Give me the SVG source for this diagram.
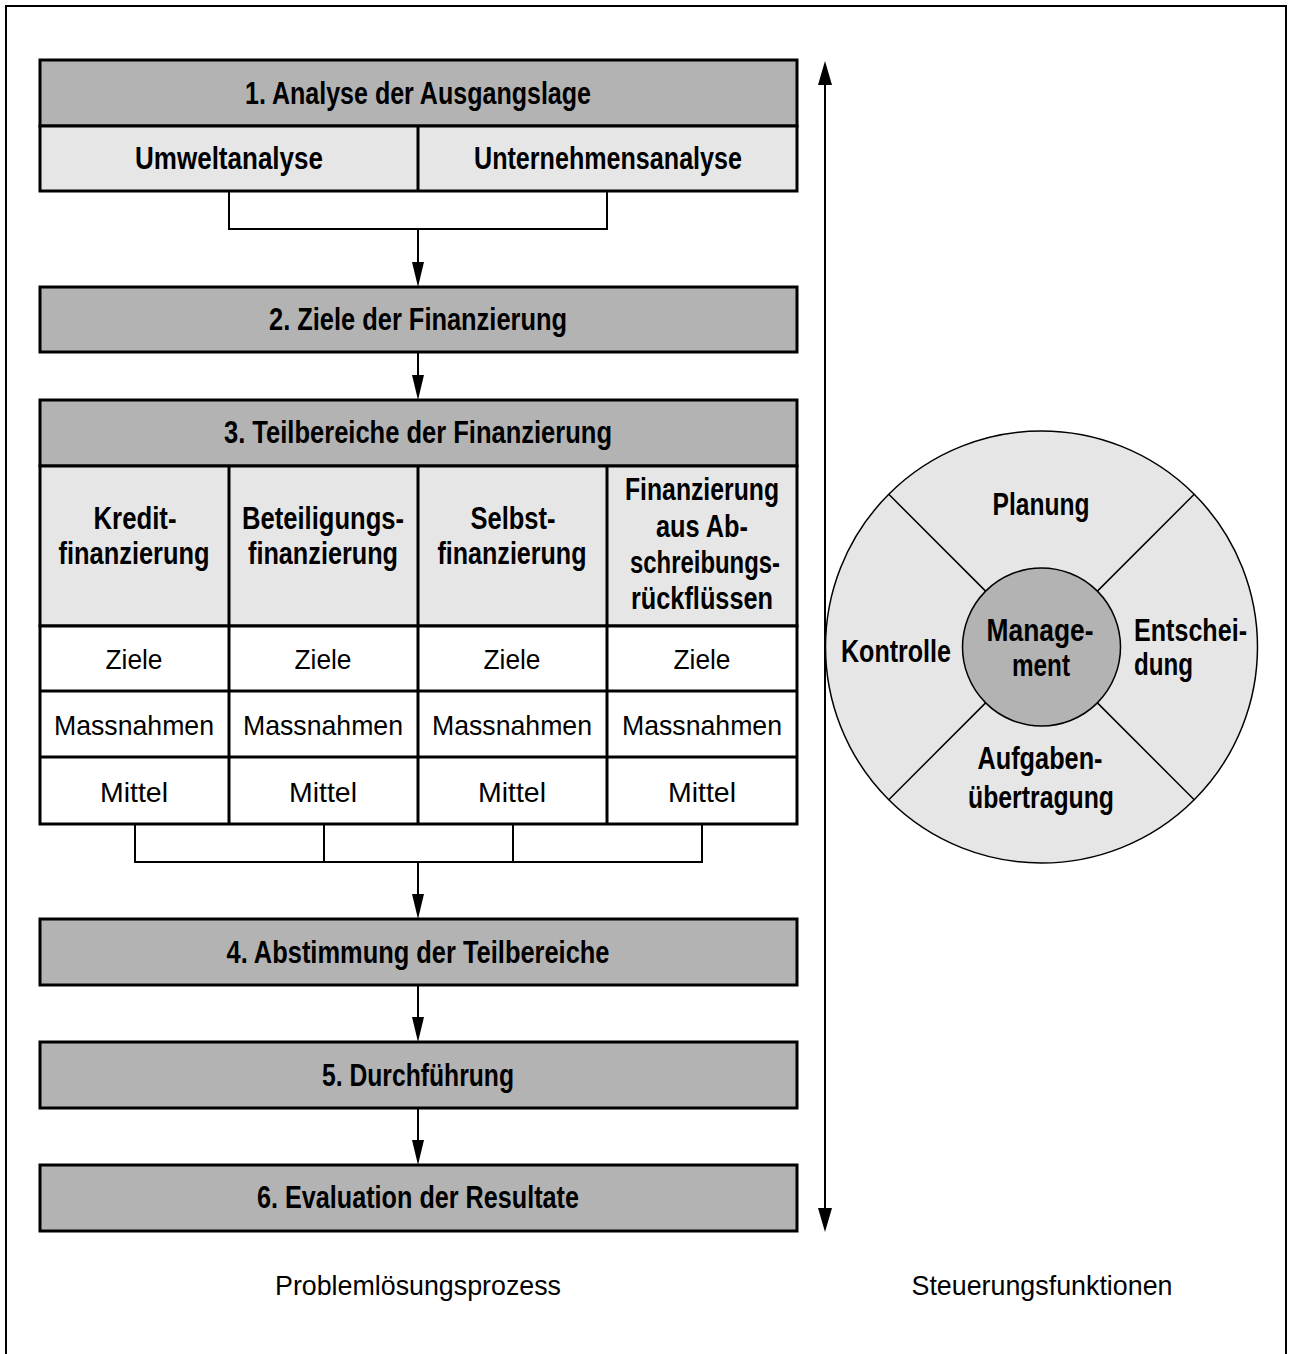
<svg xmlns="http://www.w3.org/2000/svg" width="1292" height="1354" viewBox="0 0 1292 1354">
<style>
.bg{fill:#ffffff}
.frame{fill:none;stroke:#000;stroke-width:2}
.hdr{fill:#b3b3b3;stroke:#000;stroke-width:3}
.sub{fill:#e6e6e6;stroke:#000;stroke-width:3}
.cell{fill:#ffffff;stroke:#000;stroke-width:3}
.div{fill:none;stroke:#000;stroke-width:3}
.conn{fill:none;stroke:#000;stroke-width:2}
.ring{fill:#e6e6e6;stroke:#000;stroke-width:1.5}
.core{fill:#b3b3b3;stroke:#000;stroke-width:1.5}
.spoke{stroke:#000;stroke-width:1.5}
text{font-family:"Liberation Sans","Arial",sans-serif;fill:#000}
.b{font-weight:bold;font-size:31px}
.r{font-size:28px}
.m{text-anchor:middle}
</style>
<defs>
<marker id="ah" viewBox="0 0 25 12" refX="0" refY="6" markerWidth="25" markerHeight="12" markerUnits="userSpaceOnUse" orient="auto">
<path d="M0,0 L25,6 L0,12 Z" fill="#000"/>
</marker>
<marker id="ah2" viewBox="0 0 24 14" refX="0" refY="7" markerWidth="24" markerHeight="14" markerUnits="userSpaceOnUse" orient="auto-start-reverse">
<path d="M0,0 L24,7 L0,14 Z" fill="#000"/>
</marker>
</defs>
<rect class="bg" x="0" y="0" width="1292" height="1354"/>
<path class="frame" d="M6,1354 V6 H1286 V1354"/>

<g id="n1">
<rect class="hdr" x="40" y="60" width="757" height="66"/>
<rect class="sub" x="40" y="126" width="757" height="65"/>
<line class="div" x1="418" y1="126" x2="418" y2="191"/>
<text class="b m" x="418" y="104" textLength="346" lengthAdjust="spacingAndGlyphs">1. Analyse der Ausgangslage</text>
<text class="b m" x="229" y="169" textLength="188" lengthAdjust="spacingAndGlyphs">Umweltanalyse</text>
<text class="b m" x="608" y="169" textLength="268" lengthAdjust="spacingAndGlyphs">Unternehmensanalyse</text>
</g>

<g id="n2">
<rect class="hdr" x="40" y="287" width="757" height="65"/>
<text class="b m" x="418" y="330" textLength="298" lengthAdjust="spacingAndGlyphs">2. Ziele der Finanzierung</text>
</g>

<g id="n3">
<rect class="hdr" x="40" y="400" width="757" height="66"/>
<rect class="sub" x="40" y="466" width="757" height="160"/>
<rect class="cell" x="40" y="626" width="757" height="198"/>
<line class="div" x1="40" y1="691" x2="797" y2="691"/>
<line class="div" x1="40" y1="757" x2="797" y2="757"/>
<line class="div" x1="229" y1="466" x2="229" y2="824"/>
<line class="div" x1="418" y1="466" x2="418" y2="824"/>
<line class="div" x1="607" y1="466" x2="607" y2="824"/>
<text class="b m" x="418" y="443" textLength="388" lengthAdjust="spacingAndGlyphs">3. Teilbereiche der Finanzierung</text>
<text class="b m" x="135" y="529" textLength="83" lengthAdjust="spacingAndGlyphs">Kredit-</text>
<text class="b m" x="134" y="564" textLength="151" lengthAdjust="spacingAndGlyphs">finanzierung</text>
<text class="b m" x="323" y="529" textLength="162" lengthAdjust="spacingAndGlyphs">Beteiligungs-</text>
<text class="b m" x="323" y="564" textLength="150" lengthAdjust="spacingAndGlyphs">finanzierung</text>
<text class="b m" x="513" y="529" textLength="85" lengthAdjust="spacingAndGlyphs">Selbst-</text>
<text class="b m" x="512" y="564" textLength="149" lengthAdjust="spacingAndGlyphs">finanzierung</text>
<text class="b m" x="702" y="500" textLength="154" lengthAdjust="spacingAndGlyphs">Finanzierung</text>
<text class="b m" x="702" y="537" textLength="92" lengthAdjust="spacingAndGlyphs">aus Ab-</text>
<text class="b m" x="705" y="573" textLength="150" lengthAdjust="spacingAndGlyphs">schreibungs-</text>
<text class="b m" x="702" y="609" textLength="142" lengthAdjust="spacingAndGlyphs">rückflüssen</text>
<text class="r m" x="134" y="669" textLength="57" lengthAdjust="spacingAndGlyphs">Ziele</text>
<text class="r m" x="323" y="669" textLength="57" lengthAdjust="spacingAndGlyphs">Ziele</text>
<text class="r m" x="512" y="669" textLength="57" lengthAdjust="spacingAndGlyphs">Ziele</text>
<text class="r m" x="702" y="669" textLength="57" lengthAdjust="spacingAndGlyphs">Ziele</text>
<text class="r m" x="134" y="735" textLength="160" lengthAdjust="spacingAndGlyphs">Massnahmen</text>
<text class="r m" x="323" y="735" textLength="160" lengthAdjust="spacingAndGlyphs">Massnahmen</text>
<text class="r m" x="512" y="735" textLength="160" lengthAdjust="spacingAndGlyphs">Massnahmen</text>
<text class="r m" x="702" y="735" textLength="160" lengthAdjust="spacingAndGlyphs">Massnahmen</text>
<text class="r m" x="134" y="802" textLength="68" lengthAdjust="spacingAndGlyphs">Mittel</text>
<text class="r m" x="323" y="802" textLength="68" lengthAdjust="spacingAndGlyphs">Mittel</text>
<text class="r m" x="512" y="802" textLength="68" lengthAdjust="spacingAndGlyphs">Mittel</text>
<text class="r m" x="702" y="802" textLength="68" lengthAdjust="spacingAndGlyphs">Mittel</text>
</g>

<g id="n4">
<rect class="hdr" x="40" y="919" width="757" height="66"/>
<text class="b m" x="418" y="963" textLength="383" lengthAdjust="spacingAndGlyphs">4. Abstimmung der Teilbereiche</text>
</g>

<g id="n5">
<rect class="hdr" x="40" y="1042" width="757" height="66"/>
<text class="b m" x="418" y="1086" textLength="192" lengthAdjust="spacingAndGlyphs">5. Durchführung</text>
</g>

<g id="n6">
<rect class="hdr" x="40" y="1165" width="757" height="66"/>
<text class="b m" x="418" y="1208" textLength="322" lengthAdjust="spacingAndGlyphs">6. Evaluation der Resultate</text>
</g>

<g id="connectors">
<path class="conn" d="M229,191 V229 H607 V191"/>
<path class="conn" d="M418,229 V262" marker-end="url(#ah)"/>
<path class="conn" d="M418,352 V375" marker-end="url(#ah)"/>
<path class="conn" d="M135,824 V862 H702 V824"/>
<path class="conn" d="M324,824 V862"/>
<path class="conn" d="M513,824 V862"/>
<path class="conn" d="M418,862 V894" marker-end="url(#ah)"/>
<path class="conn" d="M418,985 V1017" marker-end="url(#ah)"/>
<path class="conn" d="M418,1108 V1140" marker-end="url(#ah)"/>
<path class="conn" d="M825,85 V1208" marker-start="url(#ah2)" marker-end="url(#ah2)"/>
</g>

<g id="steuerung">
<circle class="ring" cx="1041.5" cy="647" r="216"/>
<line class="spoke" x1="985.6" y1="591.1" x2="888.8" y2="494.3"/>
<line class="spoke" x1="1097.4" y1="591.1" x2="1194.2" y2="494.3"/>
<line class="spoke" x1="985.6" y1="702.9" x2="888.8" y2="799.7"/>
<line class="spoke" x1="1097.4" y1="702.9" x2="1194.2" y2="799.7"/>
<circle class="core" cx="1041.5" cy="647" r="79"/>
<text class="b m" x="1041" y="515" textLength="97" lengthAdjust="spacingAndGlyphs">Planung</text>
<text class="b m" x="896" y="662" textLength="110" lengthAdjust="spacingAndGlyphs">Kontrolle</text>
<text class="b m" x="1040" y="641" textLength="107" lengthAdjust="spacingAndGlyphs">Manage-</text>
<text class="b m" x="1041" y="676" textLength="58" lengthAdjust="spacingAndGlyphs">ment</text>
<text class="b" x="1134" y="641" textLength="113" lengthAdjust="spacingAndGlyphs">Entschei-</text>
<text class="b" x="1134" y="675" textLength="59" lengthAdjust="spacingAndGlyphs">dung</text>
<text class="b m" x="1040" y="769" textLength="125" lengthAdjust="spacingAndGlyphs">Aufgaben-</text>
<text class="b m" x="1041" y="808" textLength="146" lengthAdjust="spacingAndGlyphs">übertragung</text>
</g>

<g id="labels">
<text class="r m" x="418" y="1295" textLength="286" lengthAdjust="spacingAndGlyphs">Problemlösungsprozess</text>
<text class="r m" x="1042" y="1295" textLength="261" lengthAdjust="spacingAndGlyphs">Steuerungsfunktionen</text>
</g>
</svg>
